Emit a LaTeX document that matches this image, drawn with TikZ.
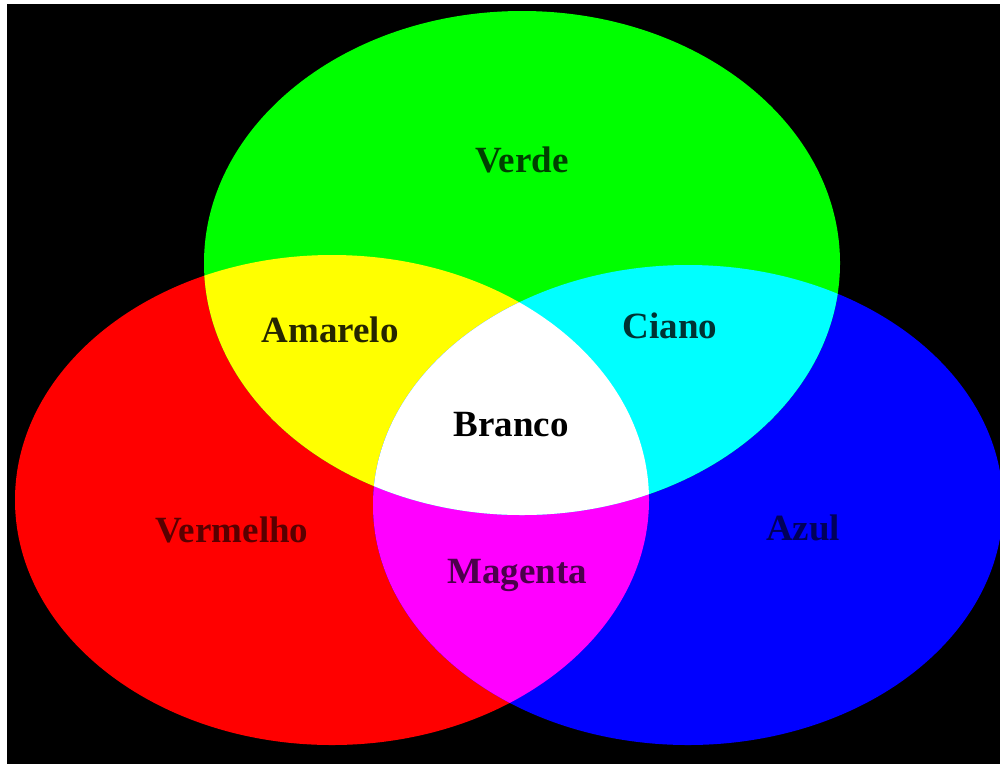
\documentclass[tikz,border=0pt]{standalone}
\usepackage{fontspec}
\setmainfont{Liberation Serif}
\usetikzlibrary{positioning}

\definecolor{rgbred}{RGB}{255,0,0}
\definecolor{rgbgreen}{RGB}{0,255,0}
\definecolor{rgbblue}{RGB}{0,0,255}
\definecolor{rgbyellow}{RGB}{255,255,0}
\definecolor{rgbcyan}{RGB}{0,255,255}
\definecolor{rgbmagenta}{RGB}{255,0,255}

\newcommand{\redset}{(332,500) ellipse [x radius=317pt, y radius=245pt]}
\newcommand{\greenset}{(522,263) ellipse [x radius=318pt, y radius=252pt]}
\newcommand{\blueset}{(688,505) ellipse [x radius=315pt, y radius=240pt]}

\begin{document}
\begin{tikzpicture}[
  x=1pt, y=-1pt,
  lbl/.style={font=\fontsize{37}{40}\selectfont\bfseries, inner sep=0pt}
]
\useasboundingbox (0,0) rectangle (1000,764);
\fill[white] (0,0) rectangle (1000,764);
\fill[black] (7,4) rectangle (1000,764);

\fill[rgbred] \redset;
\fill[rgbblue] \blueset;
\fill[rgbgreen] \greenset;
\begin{scope}
  \clip \redset;
  \fill[rgbyellow] \greenset;
  \fill[rgbmagenta] \blueset;
\end{scope}
\begin{scope}
  \clip \greenset;
  \fill[rgbcyan] \blueset;
  \clip \redset;
  \fill[white] \blueset;
\end{scope}

\node[lbl, text=rgbgreen!25!black] (verde) at (522,160) {Verde};
\node[lbl, text=rgbyellow!15!black] (amarelo) at (330,330) {Amarelo};
\node[lbl, text=rgbcyan!20!black] (ciano) at (670,326) {Ciano};
\node[lbl, text=black] (branco) at (511,425) {Branco};
\node[lbl, text=rgbred!35!black] (vermelho) at (232,530) {Vermelho};
\node[lbl, text=rgbmagenta!30!black] (magenta) at (517,575) {Magenta};
\node[lbl, text=rgbblue!35!black] (azul) at (803,528) {Azul};
\end{tikzpicture}
\end{document}
